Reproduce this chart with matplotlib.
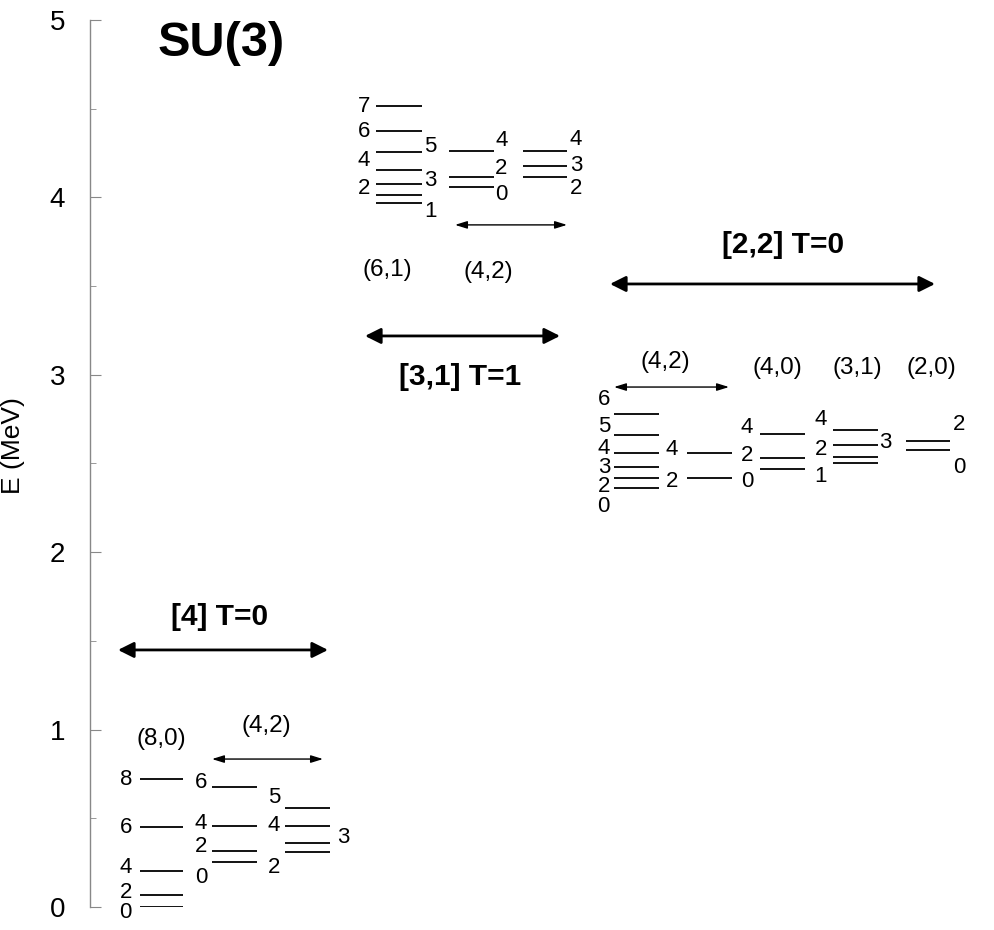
import numpy as np
import matplotlib.pyplot as plt
from matplotlib.ticker import MultipleLocator

plt.rcParams['font.family'] = ['Liberation Sans', 'DejaVu Sans']

# ---- level data: spin L and energy E (MeV) for each band column ----
# [4] T=0
L_80 = [8, 6, 4, 2, 0]
E_80 = [0.72, 0.45, 0.204, 0.066, 0.0]
L_42a_k0 = [6, 4, 2, 0]
E_42a_k0 = [0.675, 0.455, 0.316, 0.252]
L_42a_k2 = [5, 4, 3, 2]
E_42a_k2 = [0.556, 0.455, 0.359, 0.312]

# [3,1] T=1
L_61 = [7, 6, 5, 4, 3, 2, 1]
E_61 = [4.515, 4.374, 4.254, 4.154, 4.075, 4.013, 3.970]
L_42b_k0 = [4, 2, 0]
E_42b_k0 = [4.262, 4.117, 4.060]
L_42b_k2 = [4, 3, 2]
E_42b_k2 = [4.262, 4.178, 4.117]

# [2,2] T=0
L_42c_k2 = [6, 5, 4, 3, 2, 0]
E_42c_k2 = [2.779, 2.661, 2.561, 2.479, 2.420, 2.360]
L_42c_k0 = [4, 2]
E_42c_k0 = [2.561, 2.420]
L_40 = [4, 2, 0]
E_40 = [2.665, 2.529, 2.469]
L_31 = [4, 3, 2, 1]
E_31 = [2.689, 2.604, 2.538, 2.505]
L_20 = [2, 0]
E_20 = [2.629, 2.576]

fig = plt.figure(figsize=(9.94, 9.30), dpi=100)
ax = fig.add_axes([90/994, 23/930, 904/994, 887/930])
ax.set_xlim(90, 994)
ax.set_ylim(0, 5)

FS_L = 16     # spin labels
FS_B = 17.5   # (lambda,mu) labels


def band(x0, x1, L, E, sides, dys, gl=6, gr=3):
    ax.hlines(E, x0, x1, color='k', lw=1.3)
    for l, e, s, dy in zip(L, E, sides, dys):
        if s == 'l':
            ax.annotate(str(l), (x0, e), xytext=(-gl, dy), textcoords='offset pixels',
                        ha='right', va='center', fontsize=FS_L)
        else:
            ax.annotate(str(l), (x1, e), xytext=(gr, dy), textcoords='offset pixels',
                        ha='left', va='center', fontsize=FS_L)


def arrow(x0, x1, y, big=False):
    if big:
        st = '<|-|>,head_length=0.9,head_width=0.45'
        ax.annotate('', xy=(x1, y), xytext=(x0, y),
                    arrowprops=dict(arrowstyle=st, lw=2, color='k', mutation_scale=10.5,
                                    shrinkA=0, shrinkB=0))
    else:
        st = '<|-|>,head_length=0.9,head_width=0.28'
        ax.annotate('', xy=(x1, y), xytext=(x0, y),
                    arrowprops=dict(arrowstyle=st, lw=1, color='k', mutation_scale=8,
                                    shrinkA=0, shrinkB=0))


# [4] T=0 group
band(140, 183, L_80, E_80, 'lllll', [0, 0, 3, 3, -5], gl=8)
band(212, 257, L_42a_k0, E_42a_k0, 'llll', [5, 3, 4, -15], gl=5)
band(285, 330, L_42a_k2, E_42a_k2, 'llrl', [11, 1, 6, -16], gl=5, gr=7)
ax.text(161, 0.947, '(8,0)', ha='center', va='center', fontsize=FS_B)
ax.text(266, 1.020, '(4,2)', ha='center', va='center', fontsize=FS_B)
arrow(212, 323, 0.834)
arrow(118, 328, 1.449, big=True)
ax.text(220, 1.635, '[4] T=0', ha='center', va='center', fontsize=21.5, fontweight='bold')

# [3,1] T=1 group
band(376, 422, L_61, E_61, 'llrlrlr', [0, 0, 6, 10, 4, 7, -9], gl=6, gr=2)
band(449, 494, L_42b_k0, E_42b_k0, 'rrr', [10, 8, -8], gr=1)
band(523, 567, L_42b_k2, E_42b_k2, 'rrr', [11, 0, -12], gr=3)
ax.text(387, 3.591, '(6,1)', ha='center', va='center', fontsize=FS_B)
ax.text(488, 3.580, '(4,2)', ha='center', va='center', fontsize=FS_B)
arrow(455, 567, 3.845)
arrow(365, 560, 3.219, big=True)
ax.text(460, 2.988, '[3,1] T=1', ha='center', va='center', fontsize=21.5, fontweight='bold')

# [2,2] T=0 group
band(614, 659, L_42c_k2, E_42c_k2, 'llllll', [15, 8, 4, 0, -9, -18], gl=4)
band(687, 732, L_42c_k0, E_42c_k0, 'll', [3, -4], gl=9)
band(760, 805, L_40, E_40, 'lll', [7, 3, -13], gl=7)
band(833, 878, L_31, E_31, 'lrll', [10, 3, 7, -14], gl=6, gr=1)
band(906, 950, L_20, E_20, 'rr', [16, -17], gr=3)
ax.text(665, 3.072, '(4,2)', ha='center', va='center', fontsize=FS_B)
ax.text(777, 3.038, '(4,0)', ha='center', va='center', fontsize=FS_B)
ax.text(857, 3.038, '(3,1)', ha='center', va='center', fontsize=FS_B)
ax.text(931, 3.038, '(2,0)', ha='center', va='center', fontsize=FS_B)
arrow(614, 729, 2.931)
arrow(610, 935, 3.512, big=True)
ax.text(783, 3.732, '[2,2] T=0', ha='center', va='center', fontsize=21.5, fontweight='bold')

ax.text(221, 4.865, 'SU(3)', ha='center', va='center', fontsize=35, fontweight='bold')

# axes styling
for s in ['top', 'right', 'bottom']:
    ax.spines[s].set_visible(False)
ax.spines['left'].set_color('#888888')
ax.spines['left'].set_linewidth(1)
ax.set_xticks([])
ax.yaxis.set_major_locator(MultipleLocator(1))
ax.yaxis.set_minor_locator(MultipleLocator(0.5))
ax.tick_params(axis='y', which='major', direction='in', length=8, color='#888888',
               labelsize=20, pad=18)
ax.tick_params(axis='y', which='minor', direction='in', length=4, color='#888888')
ax.set_ylabel('E (MeV)', fontsize=19)
ax.yaxis.set_label_coords(-0.072, 0.52)

fig.savefig('out.png', dpi=100)
